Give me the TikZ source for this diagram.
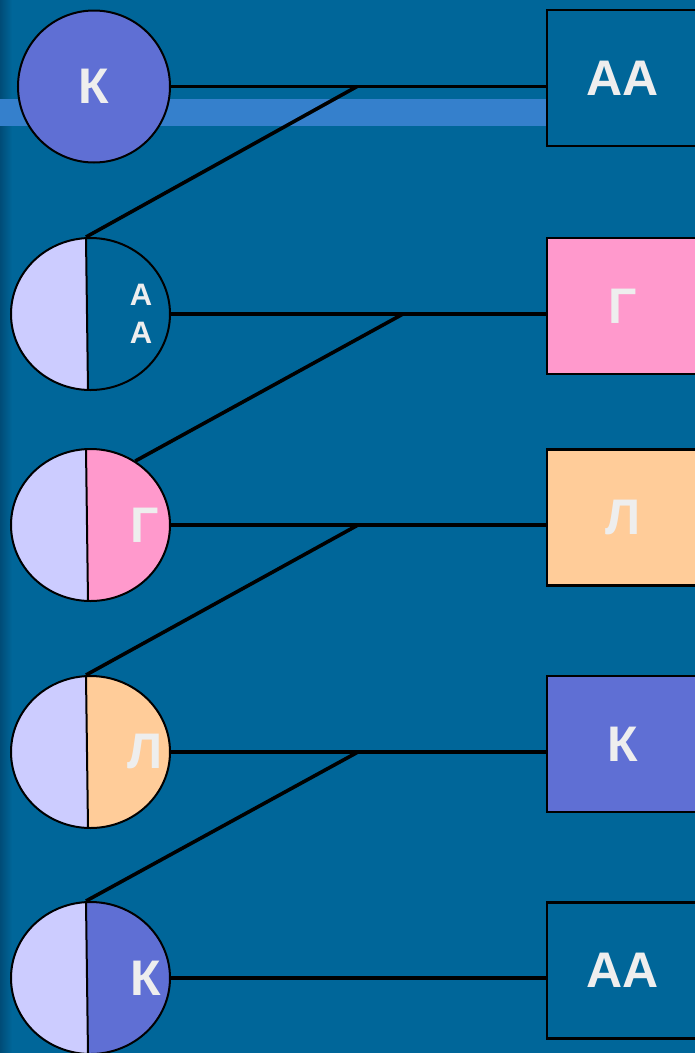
\documentclass[tikz,border=0pt]{standalone}
\usepackage{fontspec}
\setmainfont{Liberation Sans}
\usepackage{tikz}
\usetikzlibrary{shapes,backgrounds,positioning}

\definecolor{Sea}{HTML}{006699}
\definecolor{DeepSea}{HTML}{004C77}
\definecolor{Band}{HTML}{3580CC}
\definecolor{Iris}{HTML}{5F6FD4}
\definecolor{Lilac}{HTML}{CCCCFF}
\definecolor{Rose}{HTML}{FF99CC}
\definecolor{Peach}{HTML}{FFCC99}
\definecolor{Chalk}{HTML}{EEEEEE}

\begin{document}
\begin{tikzpicture}[x=1pt,y=-1pt]
				\tikzstyle{Whole}	= [circle, draw, line width=2pt, minimum size=152pt, inner sep=0pt]
				\tikzstyle{Split}	= [ellipse, draw, line width=2pt, minimum width=159pt, minimum height=152pt, inner sep=0pt,
					path picture={\fill[Lilac] ([xshift=-4.5pt]path picture bounding box.north) -- (path picture bounding box.north west) -- (path picture bounding box.south west) -- ([xshift=-2.5pt]path picture bounding box.south) -- cycle;
						\draw[line width=2pt] ([xshift=-4.5pt]path picture bounding box.north) -- ([xshift=-2.5pt]path picture bounding box.south);}]
				\tikzstyle{Card}	= [rectangle, draw, line width=2.5pt, minimum width=152pt, minimum height=136pt, inner sep=0pt]
				\tikzstyle{Big}		= [text=Chalk, font=\fontsize{50}{50}\selectfont\bfseries]
				\tikzstyle{Small}	= [text=Chalk, font=\fontsize{31}{31}\selectfont\bfseries]
				\tikzstyle{Link}	= [line width=3.6pt, black]

				\useasboundingbox (0,0) rectangle (695,1053);
				\fill[Sea] (0,0) rectangle (695,1053);
				\shade[left color=DeepSea, right color=Sea] (0,0) rectangle (12,1053);
				\fill[Band] (0,99) rectangle (547,125.5);

				\node (c1) at (94,86.5) [Whole][fill=Iris, Big] {К};
				\node (c2) at (90.5,314) [Split][fill=Sea] {};
				\node (c3) at (90.5,525) [Split][fill=Rose] {};
				\node (c4) at (90.5,752) [Split][fill=Peach] {};
				\node (c5) at (90.5,978) [Split][fill=Iris] {};

				\node (t2) at (141,294.5) [Small] {А};
				\node (u2) at (141,332.5) [Small] {А};
				\node (t3) at (145,525) [Big] {Г};
				\node (t4) at (145,751.5) [Big] {Л};
				\node (t5) at (146,978.5) [Big] {К};

				\node (b1) at (623,78) [Card][fill=Sea, Big] {АА};
				\node (b2) at (623,306) [Card][fill=Rose, Big] {Г};
				\node (b3) at (623,517.5) [Card][fill=Peach, Big] {Л};
				\node (b4) at (623,744) [Card][fill=Iris, Big] {К};
				\node (b5) at (623,970.5) [Card][fill=Sea, Big] {АА};

				\coordinate (j1) at (357,86.5);
				\coordinate (j2) at (403,314);
				\coordinate (j3) at (358,525);
				\coordinate (j4) at (358,752);

				\draw [Link] (c1.east) to (c1.east -| b1.west);
				\draw [Link] (c2.east) to (c2.east -| b2.west);
				\draw [Link] (c3.east) to (c3.east -| b3.west);
				\draw [Link] (c4.east) to (c4.east -| b4.west);
				\draw [Link] (c5.east) to (c5.east -| b5.west);

				\draw [Link] (j1) to ([xshift=-4.5pt]c2.north);
				\draw [Link] (j2) to (c3.55);
				\draw [Link] (j3) to ([xshift=-4.5pt]c4.north);
				\draw [Link] (j4) to ([xshift=-4.5pt]c5.north);
			\end{tikzpicture}
\end{document}
